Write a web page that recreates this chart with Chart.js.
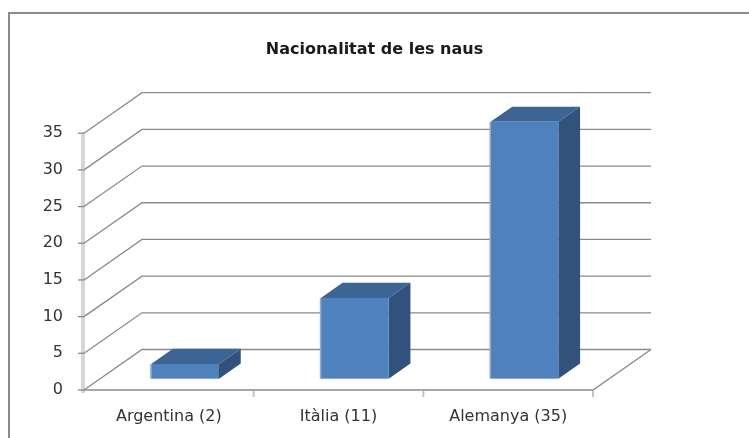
<!DOCTYPE html>
<html>
<head>
<meta charset="utf-8">
<script src="https://cdn.jsdelivr.net/npm/chart.js@4.4.1/dist/chart.umd.min.js"></script>
<style>
  html, body { margin: 0; padding: 0; background: #ffffff; }
  #wrap { width: 749px; height: 438px; }
</style>
</head>
<body>
<div id="wrap"><canvas id="c" width="749" height="438"></canvas></div>
<script>
// ---- data ----
const chartTitle = 'Nacionalitat de les naus';
const categories = ['Argentina (2)', 'Itàlia (11)', 'Alemanya (35)'];
const values = [2, 11, 35];
const yMin = 0;
const yMax = 35;
const yStep = 5;

// ---- 3D look (styling only) ----
const DEPTH_X = 58;
const DEPTH_Y = 40.5;
const BAR_FRONT = 0.28;
const BAR_BACK = 0.655;
const GRID_COLOR = '#8a8a8a';
const FRONT_COLOR = '#4F81BD';
const TOP_COLOR = '#3C6494';
const SIDE_COLOR = '#30527B';
const FONT = 'DejaVu Sans';

const threeD = {
  id: 'threeD',
  beforeDraw(chart) {
    const ctx = chart.ctx;
    ctx.save();
    ctx.fillStyle = '#ffffff';
    ctx.fillRect(0, 0, chart.width, chart.height);
    // outer border (right/bottom off-canvas as in reference)
    ctx.fillStyle = '#8c8c8c';
    ctx.fillRect(8, 12, chart.width, 2);
    ctx.fillRect(8, 12, 2, chart.height);
    ctx.restore();
  },
  beforeDatasetsDraw(chart) {
    const ctx = chart.ctx;
    const ys = chart.scales.y;
    const xs = chart.scales.x;
    const a = chart.chartArea;
    ctx.save();
    // y axis bar
    ctx.fillStyle = '#d6d6d6';
    ctx.fillRect(a.left - 3, ys.getPixelForValue(yMax), 4, a.bottom - ys.getPixelForValue(yMax) + 3);
    ctx.strokeStyle = GRID_COLOR;
    ctx.lineWidth = 1.3;
    ys.ticks.forEach(t => {
      const y = ys.getPixelForValue(t.value);
      ctx.beginPath();
      ctx.moveTo(a.left, y);
      ctx.lineTo(a.left + DEPTH_X, y - DEPTH_Y);
      ctx.lineTo(a.right + DEPTH_X, y - DEPTH_Y);
      ctx.stroke();
      // tick mark
      ctx.beginPath();
      ctx.moveTo(a.left - 6, y);
      ctx.lineTo(a.left, y);
      ctx.stroke();
    });
    // floor front + right edge
    const yb = ys.getPixelForValue(yMin);
    ctx.beginPath();
    ctx.moveTo(a.left, yb);
    ctx.lineTo(a.right, yb);
    ctx.lineTo(a.right + DEPTH_X, yb - DEPTH_Y);
    ctx.stroke();
    // category ticks (category boundaries)
    ctx.strokeStyle = '#c4c4c4';
    ctx.lineWidth = 2;
    const step = xs.getPixelForValue(1) - xs.getPixelForValue(0);
    for (let i = 0; i < categories.length; i++) {
      const x = xs.getPixelForValue(i) + step / 2;
      ctx.beginPath();
      ctx.moveTo(x, yb + 1);
      ctx.lineTo(x, yb + 7);
      ctx.stroke();
    }
    ctx.restore();
  },
  afterDatasetsDraw(chart) {
    const ctx = chart.ctx;
    const meta = chart.getDatasetMeta(0);
    const f1x = BAR_FRONT * DEPTH_X, f1y = BAR_FRONT * DEPTH_Y;
    const ddx = (BAR_BACK - BAR_FRONT) * DEPTH_X, ddy = (BAR_BACK - BAR_FRONT) * DEPTH_Y;
    ctx.save();
    meta.data.forEach(el => {
      const hw = el.width / 2;
      const x0 = el.x - hw + f1x, x1 = el.x + hw + f1x;
      const yT = el.y - f1y, yB = el.base - f1y;
      // side
      ctx.fillStyle = SIDE_COLOR;
      ctx.beginPath();
      ctx.moveTo(x1, yT); ctx.lineTo(x1 + ddx, yT - ddy); ctx.lineTo(x1 + ddx, yB - ddy); ctx.lineTo(x1, yB);
      ctx.closePath(); ctx.fill();
      // top
      ctx.fillStyle = TOP_COLOR;
      ctx.beginPath();
      ctx.moveTo(x0, yT); ctx.lineTo(x0 + ddx, yT - ddy); ctx.lineTo(x1 + ddx, yT - ddy); ctx.lineTo(x1, yT);
      ctx.closePath(); ctx.fill();
      // front
      ctx.fillStyle = FRONT_COLOR;
      ctx.fillRect(x0, yT, x1 - x0, yB - yT);
      ctx.fillStyle = '#8eaed6';
      ctx.fillRect(x0 - 1, yT, 1.5, yB - yT);
    });
    ctx.restore();
  }
};

new Chart(document.getElementById('c'), {
  type: 'bar',
  data: {
    labels: categories,
    datasets: [{
      data: values,
      backgroundColor: 'rgba(0,0,0,0)',
      borderWidth: 0,
      barPercentage: 0.4,
      categoryPercentage: 1
    }]
  },
  options: {
    responsive: false,
    animation: false,
    devicePixelRatio: 1,
    layout: { padding: 0 },
    plugins: {
      legend: { display: false },
      tooltip: { enabled: false },
      title: {
        display: true,
        text: chartTitle,
        color: '#1a1a1a',
        font: { family: FONT, size: 16, weight: 'bold' },
        padding: { top: 40, bottom: 74 }
      }
    },
    scales: {
      x: {
        grid: { display: false },
        border: { display: false },
        ticks: { color: '#333', font: { family: FONT, size: 16 }, padding: 9, maxRotation: 0 },
        afterFit(s) { s.height = 48; }
      },
      y: {
        min: yMin, max: yMax,
        grid: { display: false },
        border: { display: false },
        ticks: { stepSize: yStep, color: '#333', font: { family: FONT, size: 16 }, padding: 13 },
        afterFit(s) { s.width = 84; }
      },
      depthSpace: {
        type: 'linear',
        position: 'right',
        display: true,
        grid: { display: false },
        border: { display: false },
        ticks: { display: false },
        afterFit(s) { s.width = 156; }
      }
    }
  },
  plugins: [threeD]
});
</script>
</body>
</html>
